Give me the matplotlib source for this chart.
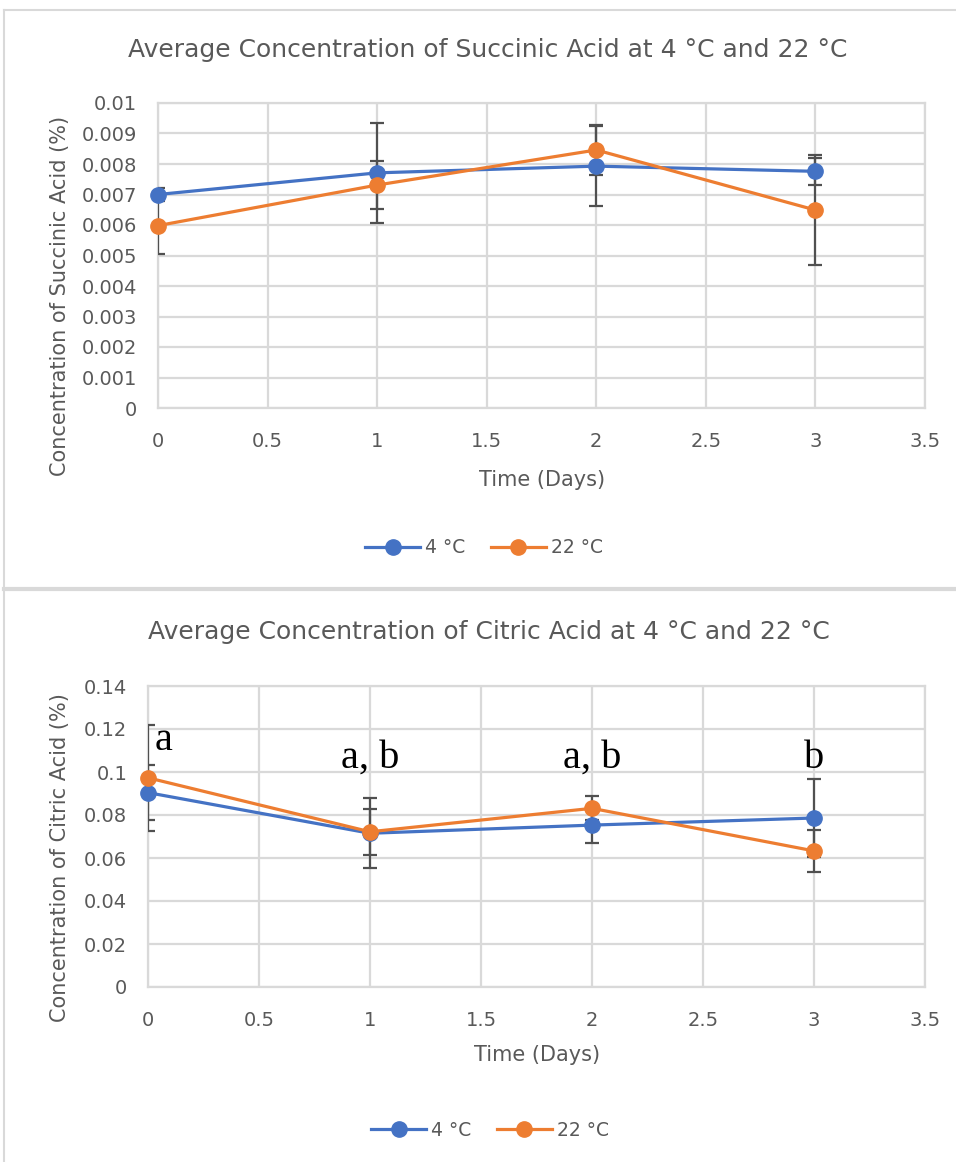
import numpy as np
import matplotlib.pyplot as plt
from matplotlib.lines import Line2D

plt.rcParams['font.family'] = ['DejaVu Sans']

days = [0, 1, 2, 3]
labels = ['4 °C', '22 °C']

# succinic acid, mean and error per day
succ_4 = [0.00700, 0.00771, 0.00793, 0.00776]
succ_4_err = [0.00022, 0.00164, 0.00131, 0.00045]
succ_22 = [0.00598, 0.00731, 0.00846, 0.00649]
succ_22_err = [0.00093, 0.00079, 0.00082, 0.00180]

# citric acid, mean and error per day
cit_4 = [0.0904, 0.0715, 0.0753, 0.0786]
cit_4_err = [0.0127, 0.0163, 0.0084, 0.0183]
cit_22 = [0.0973, 0.0722, 0.0831, 0.0633]
cit_22_err = [0.0247, 0.0107, 0.0056, 0.0098]

# significance letters over the citric acid points (baseline height)
sig_letters = ['a', 'a, b', 'a, b', 'b']
sig_y = [0.110, 0.102, 0.102, 0.102]

blue = '#4472C4'
orange = '#ED7D31'
txt = '#595959'
grid = '#D9D9D9'

W, H = 956, 1162
fig = plt.figure(figsize=(W / 100, H / 100), dpi=100)

def fx(px):
    return px / W

def fy(py):
    return 1 - py / H

# frame lines around the two chart boxes
def fline(x0, y0, x1, y1, lw=1.5):
    fig.add_artist(Line2D([fx(x0), fx(x1)], [fy(y0), fy(y1)],
                          color=grid, lw=lw, transform=fig.transFigure))
fline(4, 10, W, 10)
fline(4, 10, 4, H)
fline(4, 589, W, 589, lw=3)


def draw(ax, y4, e4, y22, e22, ymax, ystep, fmt):
    ax.errorbar(days, y4, yerr=e4, fmt='none', ecolor='#505050', elinewidth=1.6,
                capsize=5, capthick=1.6, zorder=3)
    ax.errorbar(days, y22, yerr=e22, fmt='none', ecolor='#505050', elinewidth=1.6,
                capsize=5, capthick=1.6, zorder=3)
    ax.plot(days, y4, '-o', color=blue, lw=2.3, ms=11, label=labels[0], zorder=4, clip_on=False)
    ax.plot(days, y22, '-o', color=orange, lw=2.3, ms=11, label=labels[1], zorder=5, clip_on=False)
    ax.set_xlim(0, 3.5)
    ax.set_ylim(0, ymax)
    ax.set_xticks(np.arange(0, 3.51, 0.5))
    ax.set_xticklabels(['0', '0.5', '1', '1.5', '2', '2.5', '3', '3.5'])
    yt = np.arange(0, ymax + ystep / 2, ystep)
    ax.set_yticks(yt)
    ax.set_yticklabels([fmt(v) for v in yt])
    ax.grid(True, color=grid, lw=1.6)
    ax.set_axisbelow(True)
    for s in ax.spines.values():
        s.set_color(grid)
        s.set_linewidth(1.6)
    ax.tick_params(length=0, colors=txt, labelsize=14)
    ax.tick_params(axis='x', pad=17)
    ax.tick_params(axis='y', pad=15)


def texts(title, tpos, ylabel, ypos, xpos, lpos):
    fig.text(fx(tpos[0]), fy(tpos[1]), title, ha='center', va='center',
             color=txt, fontsize=18)
    fig.text(fx(ypos[0]), fy(ypos[1]), ylabel, ha='center', va='center',
             rotation=90, color=txt, fontsize=15)
    fig.text(fx(xpos[0]), fy(xpos[1]), 'Time (Days)', ha='center', va='center',
             color=txt, fontsize=15)


ax1 = fig.add_axes([fx(158), fy(408), (925 - 158) / W, (408 - 103) / H])
draw(ax1, succ_4, succ_4_err, succ_22, succ_22_err, 0.01, 0.001,
     lambda v: '0' if v == 0 else ('%.3f' % v).rstrip('0'))
texts('Average Concentration of Succinic Acid at 4 °C and 22 °C', (488, 50),
      'Concentration of Succinic Acid (%)', (60, 296), (542, 480), None)
ax1.legend(loc='center', bbox_to_anchor=(fx(484), fy(548)), bbox_transform=fig.transFigure,
           ncol=2, frameon=False, fontsize=13.5, labelcolor=txt, handlelength=2.9,
           columnspacing=1.4, handletextpad=0.27)

ax2 = fig.add_axes([fx(148), fy(987), (925 - 148) / W, (987 - 686) / H])
draw(ax2, cit_4, cit_4_err, cit_22, cit_22_err, 0.14, 0.02,
     lambda v: '0' if v == 0 else ('%.2f' % v).rstrip('0'))
texts('Average Concentration of Citric Acid at 4 °C and 22 °C', (489, 632),
      'Concentration of Citric Acid (%)', (60, 858), (537, 1055), None)
ax2.legend(loc='center', bbox_to_anchor=(fx(490), fy(1130)), bbox_transform=fig.transFigure,
           ncol=2, frameon=False, fontsize=13.5, labelcolor=txt, handlelength=2.9,
           columnspacing=1.4, handletextpad=0.27)

for i, (lab, yv) in enumerate(zip(sig_letters, sig_y)):
    ha = 'left' if i == 0 else 'center'
    xv = days[i] + (0.03 if i == 0 else 0)
    ax2.text(xv, yv, lab, ha=ha, va='baseline', fontsize=29,
             family='Liberation Serif', color='black', zorder=6)

fig.savefig('out.png', dpi=100)
